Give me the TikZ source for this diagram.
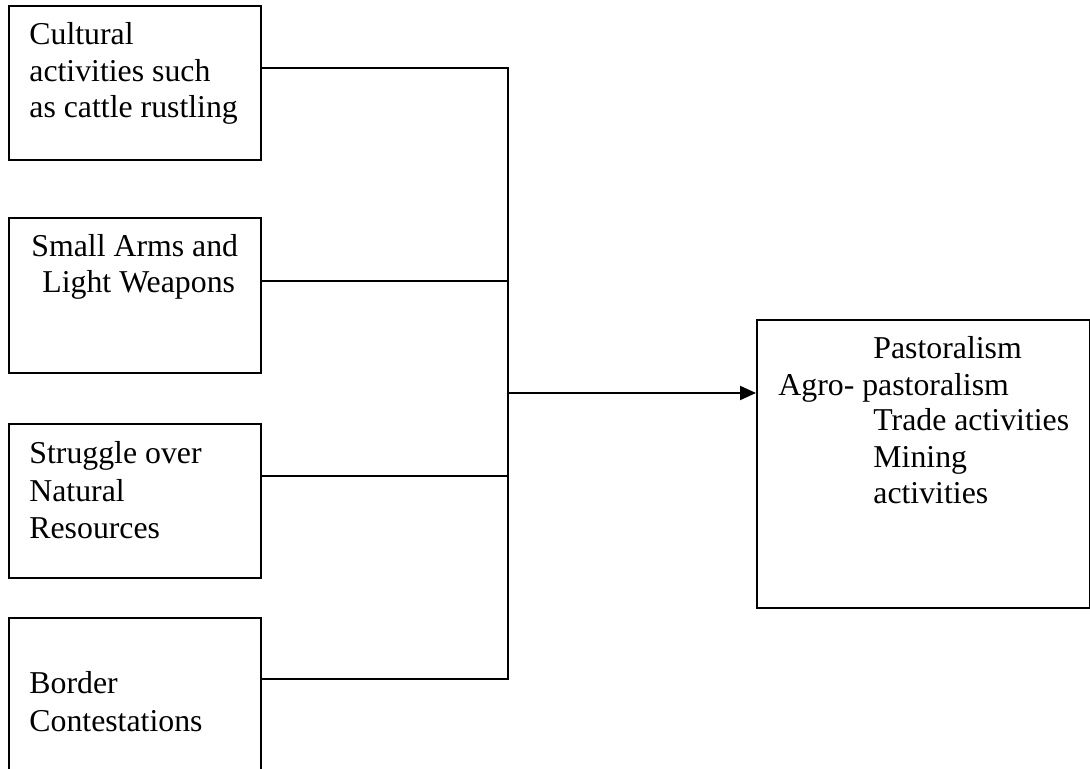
\documentclass[tikz,border=0pt]{standalone}
\usepackage{fontspec}
\setmainfont{Liberation Serif}
\usetikzlibrary{arrows.meta}
\begin{document}
\begin{tikzpicture}[x=0.5pt,y=-0.5pt,
  boxline/.style={draw=black,line width=0.9pt},
  conn/.style={draw=black,line width=1pt},
  txt/.style={anchor=base west,inner sep=0pt,font=\fontsize{15.9}{18.3}\selectfont}]
\useasboundingbox (0,0) rectangle (1090,769);
\clip (0,0) rectangle (1090,769);
% boxes
\node[boxline,inner sep=0pt,minimum width=126pt,minimum height=77pt,anchor=north west] (b1) at (8,5) {};
\node[boxline,inner sep=0pt,minimum width=126pt,minimum height=77.5pt,anchor=north west] (b2) at (8,217) {};
\node[boxline,inner sep=0pt,minimum width=126pt,minimum height=77pt,anchor=north west] (b3) at (8,423) {};
\node[boxline,inner sep=0pt,minimum width=126pt,minimum height=90pt,anchor=north west] (b4) at (8,617) {};
\node[boxline,inner sep=0pt,minimum width=166.5pt,minimum height=144pt,anchor=north west] (r) at (756,319) {};
% texts
\node[txt] (t11) at (29,45) {Cultural};
\node[txt] (t12) at (29,82) {activities such};
\node[txt] (t13) at (29,118) {as cattle rustling};
\node[txt] (t21) at (31,257) {Small Arms and};
\node[txt] (t22) at (42,293) {Light Weapons};
\node[txt] (t31) at (29,463) {Struggle over};
\node[txt] (t32) at (29,501) {Natural};
\node[txt] (t33) at (29,538) {Resources};
\node[txt] (t41) at (29,693) {Border};
\node[txt] (t42) at (29,731) {Contestations};
\node[txt] (r1) at (873,358) {Pastoralism};
\node[txt] (r2) at (778,395) {Agro- pastoralism};
\node[txt] (r3) at (873,430) {Trade activities};
\node[txt] (r4) at (873,467) {Mining};
\node[txt] (r5) at (873,503) {activities};
% junctions
\coordinate (j1) at (508,68);
\coordinate (j2) at (508,281);
\coordinate (j3) at (508,476);
\coordinate (j4) at (508,679);
\coordinate (ja) at (508,393);
% connectors
\draw[conn] (b1.east |- j1) -- (j1) -- (j4) -- (b4.east |- j4);
\draw[conn] (b2.east |- j2) -- (j2);
\draw[conn] (b3.east |- j3) -- (j3);
\draw[conn,-{Triangle[length=8pt,width=7pt]}] (ja) -- (r.west |- ja);
\end{tikzpicture}
\end{document}
